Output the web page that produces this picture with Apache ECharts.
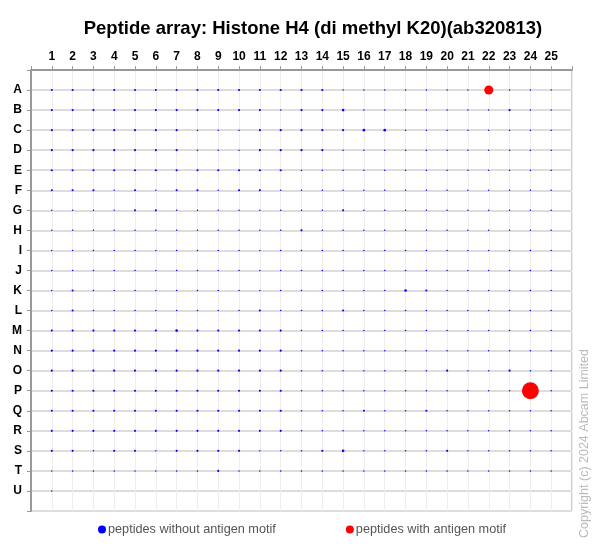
<!DOCTYPE html>
<html>
<head>
<meta charset="utf-8">
<script src="https://cdn.jsdelivr.net/npm/echarts@6/dist/echarts.min.js"></script>
<style>
  html, body { margin: 0; padding: 0; background: #fff; }
  #chart { width: 600px; height: 551px; }
</style>
</head>
<body>
<div id="chart"></div>
<script>
// column numbers and row letters of the array
const columns = ['1','2','3','4','5','6','7','8','9','10','11','12','13','14','15','16','17','18','19','20','21','22','23','24','25']
const rows = ['A','B','C','D','E','F','G','H','I','J','K','L','M','N','O','P','Q','R','S','T','U']

// signal per spot (rows A..U, columns 1..25); 0 = no spot
const signal = [
  [2,2,2,2,2,2,2,2,2,2,2,2,2,2,1,1,1,1,1,1,1,0,1,1,1],
  [2,2,2,2,2,2,2,2,2,2,2,1,2,2,3,1,1,1,1,1,1,1,2,1,1],
  [2,2,2,2,2,2,2,1,1,1,2,2,2,2,2,3,3,1,1,1,1,1,1,1,1],
  [2,2,2,2,2,2,2,1,1,1,2,2,2,2,1,1,1,1,1,1,1,1,1,1,1],
  [2,2,2,2,2,2,2,2,2,2,2,2,1,1,1,1,1,1,1,1,1,1,1,1,1],
  [2,2,2,1,2,1,2,2,1,2,2,1,1,1,1,1,1,1,1,1,1,1,1,1,1],
  [1,1,1,1,2,2,1,1,1,1,1,1,1,1,2,1,1,1,1,1,1,1,1,1,1],
  [1,1,1,1,1,1,1,1,1,1,1,1,2,1,1,1,1,1,1,1,1,1,1,1,1],
  [1,1,1,1,1,1,1,1,1,1,1,1,1,1,1,1,1,1,1,1,1,1,1,1,1],
  [1,1,1,1,1,1,1,1,1,1,1,1,1,1,1,1,1,1,1,1,1,1,1,1,1],
  [1,2,1,1,1,1,1,1,1,1,1,1,1,1,1,1,1,3,2,1,1,1,1,1,1],
  [1,2,1,1,1,1,1,1,1,1,2,1,1,1,2,1,1,1,1,1,1,1,1,1,1],
  [2,2,2,2,2,2,3,2,2,2,2,2,1,1,1,1,1,1,1,1,1,1,1,1,1],
  [2,2,2,2,2,2,2,2,2,2,2,2,1,1,1,1,1,1,1,1,1,1,1,1,1],
  [2,2,2,2,2,2,2,2,2,2,2,2,1,1,1,1,1,1,1,2,1,1,2,1,1],
  [2,2,2,2,2,2,2,2,2,2,2,2,1,1,1,1,1,1,1,1,1,1,1,0,1],
  [2,2,2,2,2,2,2,2,2,2,2,2,1,1,1,2,1,1,2,1,1,1,1,1,1],
  [2,2,2,2,2,2,2,2,2,2,2,2,1,1,1,1,1,1,1,1,1,1,1,1,1],
  [2,2,1,2,2,1,2,2,2,2,1,1,1,2,3,1,1,1,1,2,1,1,1,1,1],
  [1,1,1,1,1,1,1,1,2,1,1,1,1,1,1,1,1,1,1,1,1,1,1,1,1],
  [1,0,0,0,0,0,0,0,0,0,0,0,0,0,0,0,0,0,0,0,0,0,0,0,0],
]

// spots carrying the antigen motif: [column, row, signal]
const motifSpots = [
  ['22', 'A', 36],
  ['24', 'P', 128],
]

function spotSize(v) {
  return 1.5 * Math.sqrt(v)
}

const plainData = []
rows.forEach(function (r, ri) {
  columns.forEach(function (c, ci) {
    const v = signal[ri][ci]
    if (v > 0) plainData.push([ci + 1, ri + 1, v])
  })
})
const motifData = motifSpots.map(function (s) {
  return [columns.indexOf(s[0]) + 1, rows.indexOf(s[1]) + 1, s[2]]
})

const option = {
  animation: false,
  title: {
    text: 'Peptide array: Histone H4 (di methyl K20)(ab320813)',
    left: 308,
    textAlign: 'center',
    top: 14,
    textStyle: {
      fontFamily: 'Liberation Sans',
      fontSize: 18.5,
      fontWeight: 'bold',
      color: '#000',
    },
  },
  legend: {
    bottom: 10,
    left: 93,
    itemGap: 70,
    itemWidth: 8,
    itemHeight: 8,
    icon: 'circle',
    textStyle: {
      fontFamily: 'Liberation Sans',
      fontSize: 12.7,
      color: '#555',
      padding: [0, 0, 0, -3],
    },
    data: ['peptides without antigen motif', 'peptides with antigen motif'],
  },
  grid: {
    left: 31,
    right: 28,
    top: 70,
    bottom: 40,
    show: true,
    borderColor: '#999',
    borderWidth: 1,
  },
  xAxis: {
    type: 'value',
    position: 'top',
    min: 0,
    max: 26,
    interval: 1,
    axisLine: { show: true, lineStyle: { color: '#999', width: 2 } },
    axisTick: { show: true, length: 4, lineStyle: { color: '#999' } },
    axisLabel: {
      margin: 7,
      fontFamily: 'Liberation Sans',
      fontSize: 12,
      fontWeight: 'bold',
      color: '#000',
      formatter: function (v) {
        return v >= 1 && v <= 25 ? columns[v - 1] : ''
      },
    },
    splitLine: { show: true, lineStyle: { color: '#eeeeee', width: 1 } },
  },
  yAxis: {
    type: 'value',
    inverse: true,
    min: 0,
    max: 22,
    interval: 1,
    axisLine: { show: true, lineStyle: { color: '#999', width: 2 } },
    axisTick: { show: true, length: 4, lineStyle: { color: '#999' } },
    axisLabel: {
      margin: 9,
      fontFamily: 'Liberation Sans',
      fontSize: 12,
      fontWeight: 'bold',
      color: '#000',
      formatter: function (v) {
        return v >= 1 && v <= 21 ? rows[v - 1] : ''
      },
    },
    splitLine: { show: true, lineStyle: { color: '#dddddd', width: 2 } },
  },
  series: [
    {
      name: 'peptides without antigen motif',
      type: 'scatter',
      data: plainData,
      symbolSize: function (d) { return spotSize(d[2]) },
      itemStyle: { color: '#0000ff', opacity: 1 },
      emphasis: { disabled: true },
    },
    {
      name: 'peptides with antigen motif',
      type: 'scatter',
      data: motifData,
      symbolSize: function (d) { return spotSize(d[2]) },
      itemStyle: { color: '#ff0000', opacity: 1 },
      emphasis: { disabled: true },
    },
  ],
  graphic: [
    {
      type: 'text',
      x: 578,
      y: 538,
      rotation: Math.PI / 2,
      style: {
        text: 'Copyright (c) 2024 Abcam Limited',
        fontFamily: 'Liberation Sans',
        fontSize: 12.5,
        fill: '#bbbbbb',
      },
    },
  ],
}

var myChart = echarts.init(document.getElementById('chart'))
myChart.setOption(option)
</script>
</body>
</html>
